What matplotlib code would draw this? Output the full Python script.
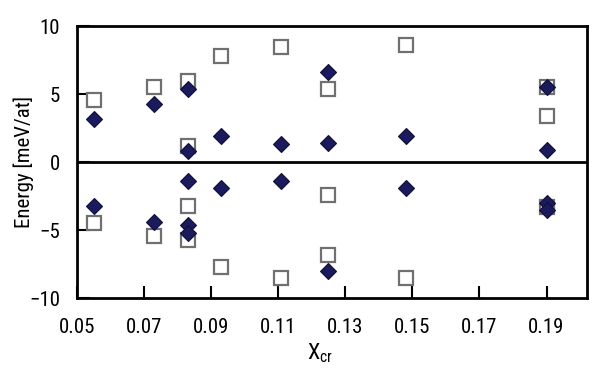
import matplotlib
matplotlib.use('Agg')
import matplotlib.pyplot as plt

# 글꼴 설정 (좁은 산세리프)
matplotlib.rcParams['font.family'] = ['Roboto Condensed', 'Liberation Sans', 'DejaVu Sans']
matplotlib.rcParams['font.size'] = 15
matplotlib.rcParams['mathtext.fontset'] = 'custom'
matplotlib.rcParams['mathtext.rm'] = 'Roboto Condensed'
matplotlib.rcParams['mathtext.it'] = 'Roboto Condensed'

# 데이터
sq_x = [0.055, 0.055, 0.073, 0.073, 0.083, 0.083, 0.083, 0.083,
        0.093, 0.093, 0.111, 0.111, 0.125, 0.125, 0.125,
        0.148, 0.148, 0.19, 0.19, 0.19]
sq_y = [4.6, -4.5, 5.5, -5.4, 6.0, 1.2, -3.2, -5.7,
        7.8, -7.7, 8.5, -8.5, 5.4, -2.4, -6.8,
        8.6, -8.5, 5.5, 3.4, -3.3]

dm_x = [0.055, 0.055, 0.073, 0.073, 0.083, 0.083, 0.083, 0.083, 0.083,
        0.093, 0.093, 0.111, 0.111, 0.125, 0.125, 0.125,
        0.148, 0.148, 0.19, 0.19, 0.19, 0.19]
dm_y = [3.2, -3.2, 4.3, -4.4, 5.4, 0.8, -1.4, -4.6, -5.2,
        1.9, -1.9, 1.3, -1.4, 6.6, 1.4, -8.0,
        1.9, -1.9, 5.5, 0.9, -3.0, -3.5]

x_ticks = [0.05, 0.07, 0.09, 0.11, 0.13, 0.15, 0.17, 0.19]
y_ticks = [-10, -5, 0, 5, 10]

fig = plt.figure(figsize=(6, 3.74), dpi=100)
ax = fig.add_axes([0.128, 0.203, 0.85, 0.727])

ax.axhline(0, color='black', lw=2, zorder=1)
ax.plot(sq_x, sq_y, 's', ms=10.5, mfc='white', mec='#707070', mew=1.6, ls='none', zorder=2)
ax.plot(dm_x, dm_y, 'D', ms=8, mfc='#1b1a5c', mec='#10103a', mew=0.8, ls='none', zorder=3)

ax.set_xlim(0.05, 0.202)
ax.set_ylim(-10, 10)
ax.set_xticks(x_ticks)
ax.set_xticklabels(['%.2f' % v for v in x_ticks])
ax.set_yticks(y_ticks)
ax.set_yticklabels(['\u221210', '\u22125', '0', '5', '10'])
ax.tick_params(direction='in', length=9, width=1.5, labelsize=15)
ax.tick_params(axis='x', pad=14)
ax.tick_params(axis='y', pad=12)
for s in ax.spines.values():
    s.set_linewidth(2)

ax.set_xlabel('X$_{\\rm cr}$', fontsize=16)
ax.xaxis.set_label_coords(0.476, -0.16)
ax.set_ylabel('Energy [meV/at]', fontsize=15)
ax.yaxis.set_label_coords(-0.084, 0.5)

fig.savefig('out.png', dpi=100)
